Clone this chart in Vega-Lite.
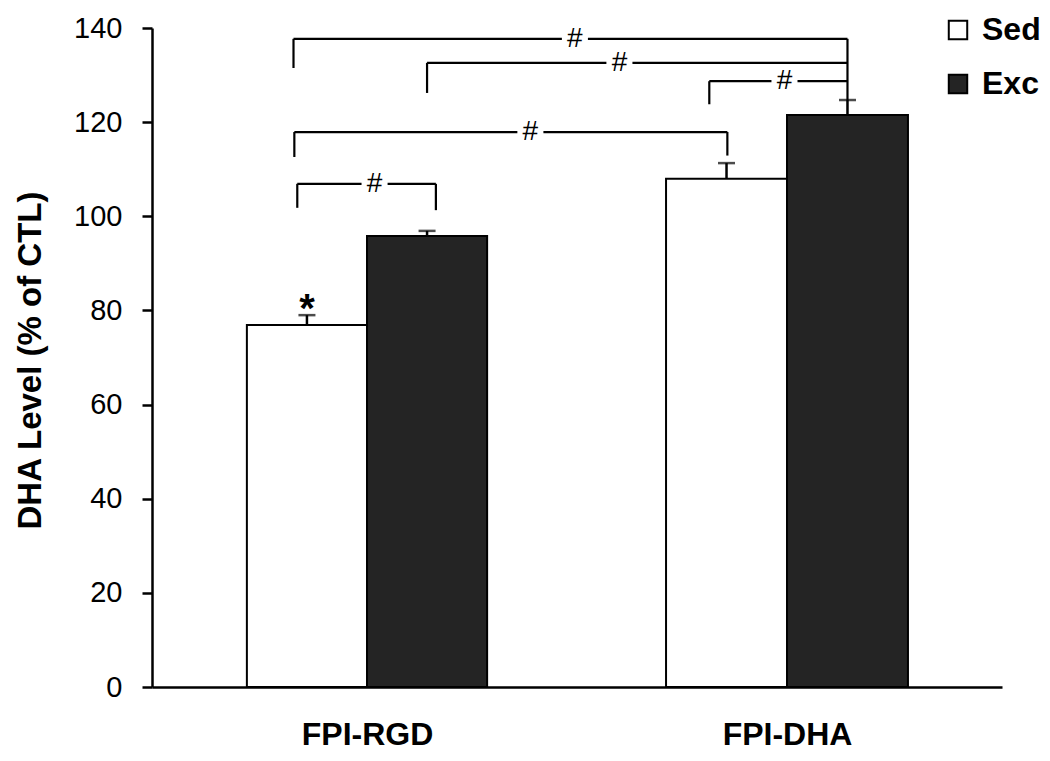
{
  "$schema": "https://vega.github.io/schema/vega-lite/v6.json",
  "width": 850,
  "height": 659,
  "autosize": {"type": "none"},
  "padding": {"left": 152, "top": 28, "right": 48, "bottom": 74},
  "background": "white",
  "config": {
    "view": {"stroke": null},
    "font": "Liberation Sans",
    "axis": {"grid": false, "domainColor": "black", "tickColor": "black", "labelColor": "black", "titleColor": "black", "labelFont": "Liberation Sans", "titleFont": "Liberation Sans"}
  },
  "datasets": {
    "bars": [
      {"group": "FPI-RGD", "cond": "Sed", "x0": 0.214, "x1": 0.5, "xc": 0.357, "mean": 76.9, "upper": 79.0},
      {"group": "FPI-RGD", "cond": "Exc", "x0": 0.5, "x1": 0.786, "xc": 0.643, "mean": 95.8, "upper": 96.9},
      {"group": "FPI-DHA", "cond": "Sed", "x0": 1.212, "x1": 1.5, "xc": 1.356, "mean": 108.0, "upper": 111.3},
      {"group": "FPI-DHA", "cond": "Exc", "x0": 1.5, "x1": 1.788, "xc": 1.644, "mean": 121.5, "upper": 124.7}
    ],
    "segments": [
      {"x": 0.325, "x2": 0.964, "y": 137.7, "y2": 137.7},
      {"x": 1.026, "x2": 1.644, "y": 137.7, "y2": 137.7},
      {"x": 0.325, "x2": 0.325, "y": 131.5, "y2": 137.7},
      {"x": 1.644, "x2": 1.644, "y": 124.7, "y2": 137.7},
      {"x": 0.643, "x2": 1.070, "y": 132.6, "y2": 132.6},
      {"x": 1.132, "x2": 1.644, "y": 132.6, "y2": 132.6},
      {"x": 0.643, "x2": 0.643, "y": 126.2, "y2": 132.6},
      {"x": 1.315, "x2": 1.463, "y": 128.7, "y2": 128.7},
      {"x": 1.525, "x2": 1.644, "y": 128.7, "y2": 128.7},
      {"x": 1.315, "x2": 1.315, "y": 123.8, "y2": 128.7},
      {"x": 0.327, "x2": 0.858, "y": 117.9, "y2": 117.9},
      {"x": 0.920, "x2": 1.358, "y": 117.9, "y2": 117.9},
      {"x": 0.327, "x2": 0.327, "y": 112.6, "y2": 117.9},
      {"x": 1.358, "x2": 1.358, "y": 112.9, "y2": 117.9},
      {"x": 0.334, "x2": 0.487, "y": 106.9, "y2": 106.9},
      {"x": 0.549, "x2": 0.664, "y": 106.9, "y2": 106.9},
      {"x": 0.334, "x2": 0.334, "y": 101.8, "y2": 106.9},
      {"x": 0.664, "x2": 0.664, "y": 101.3, "y2": 106.9}
    ],
    "hashes": [
      {"x": 0.995, "y": 137.7, "label": "#"},
      {"x": 1.101, "y": 132.6, "label": "#"},
      {"x": 1.494, "y": 128.7, "label": "#"},
      {"x": 0.889, "y": 117.9, "label": "#"},
      {"x": 0.518, "y": 106.9, "label": "#"}
    ],
    "stars": [
      {"x": 0.357, "y": 77.5, "label": "*"}
    ]
  },
  "layer": [
    {
      "data": {"name": "bars"},
      "mark": {"type": "bar", "stroke": "black", "strokeWidth": 2, "orient": "vertical"},
      "encoding": {
        "x": {"field": "x0", "type": "quantitative", "scale": {"domain": [0, 2], "nice": false, "zero": false},
          "axis": {"title": null, "values": [0.5, 1.5], "labelExpr": "datum.value < 1 ? 'FPI-RGD' : 'FPI-DHA'", "ticks": false, "domainWidth": 2.5, "labelFontSize": 32, "labelFontWeight": "bold", "labelPadding": 32, "labelFlush": false}},
        "x2": {"field": "x1"},
        "y": {"field": "mean", "type": "quantitative", "scale": {"domain": [0, 140], "nice": false},
          "axis": {"title": "DHA Level (% of CTL)", "values": [0, 20, 40, 60, 80, 100, 120, 140], "tickSize": 10, "tickWidth": 2.5, "domainWidth": 2.5, "labelFontSize": 29, "labelPadding": 20, "titleFontSize": 33, "titleFontWeight": "bold", "titleX": -122, "titleY": 332, "titleAlign": "center", "titleBaseline": "middle", "titleAngle": -90}},
        "y2": {"datum": 0},
        "color": {"field": "cond", "type": "nominal", "scale": {"domain": ["Sed", "Exc"], "range": ["#ffffff", "#242424"]},
          "legend": {"title": null, "orient": "none", "legendX": 790, "legendY": -14, "symbolType": "square", "symbolSize": 340, "symbolStrokeColor": "black", "symbolStrokeWidth": 2, "labelFontSize": 32, "labelFontWeight": "bold", "labelColor": "black", "labelOffset": 8, "rowPadding": 22, "padding": 0}}
      }
    },
    {
      "data": {"name": "bars"},
      "mark": {"type": "rule", "color": "black", "strokeWidth": 2.5},
      "encoding": {
        "x": {"field": "xc", "type": "quantitative"},
        "y": {"field": "mean", "type": "quantitative"},
        "y2": {"field": "upper"}
      }
    },
    {
      "data": {"name": "bars"},
      "mark": {"type": "tick", "orient": "horizontal", "color": "black", "size": 17, "thickness": 2.5},
      "encoding": {
        "x": {"field": "xc", "type": "quantitative"},
        "y": {"field": "upper", "type": "quantitative"}
      }
    },
    {
      "mark": {"type": "rule", "color": "black", "strokeWidth": 3, "strokeDash": [12, 9]},
      "encoding": {
        "y": {"datum": 100, "type": "quantitative"},
        "x": {"datum": 0, "type": "quantitative"},
        "x2": {"datum": 2}
      }
    },
    {
      "data": {"name": "segments"},
      "mark": {"type": "rule", "color": "black", "strokeWidth": 2.2},
      "encoding": {
        "x": {"field": "x", "type": "quantitative"},
        "x2": {"field": "x2"},
        "y": {"field": "y", "type": "quantitative"},
        "y2": {"field": "y2"}
      }
    },
    {
      "data": {"name": "hashes"},
      "mark": {"type": "text", "fontSize": 28, "color": "black", "align": "center", "baseline": "middle", "font": "Liberation Sans"},
      "encoding": {
        "x": {"field": "x", "type": "quantitative"},
        "y": {"field": "y", "type": "quantitative"},
        "text": {"field": "label"}
      }
    },
    {
      "data": {"name": "stars"},
      "mark": {"type": "text", "fontSize": 40, "fontWeight": "bold", "color": "black", "align": "center", "baseline": "alphabetic", "font": "Liberation Sans"},
      "encoding": {
        "x": {"field": "x", "type": "quantitative"},
        "y": {"field": "y", "type": "quantitative"},
        "text": {"field": "label"}
      }
    }
  ]
}
